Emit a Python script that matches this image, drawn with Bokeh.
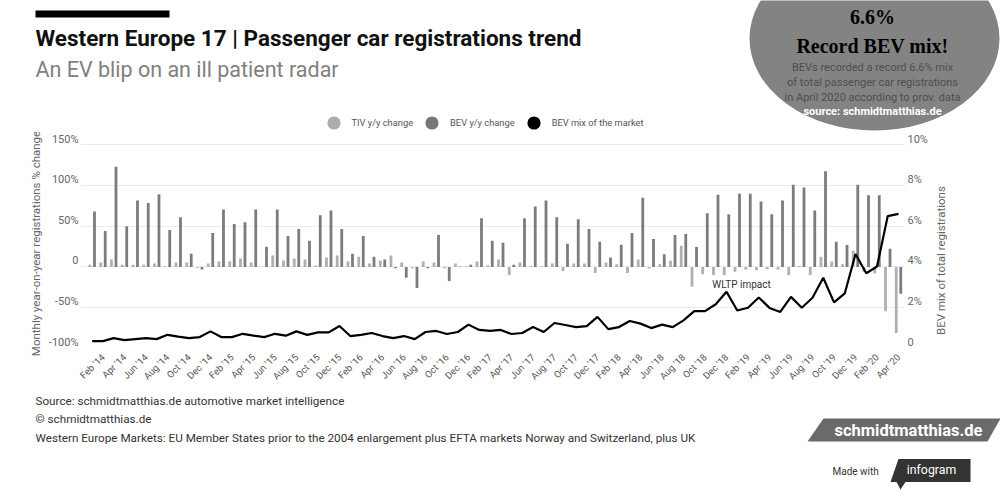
import math
from bokeh.plotting import figure
from bokeh.layouts import column, row
from bokeh.models import (Range1d, LinearAxis, FixedTicker, Label, Legend, LegendItem,
                          ColumnDataSource)
from bokeh.transform import dodge
from bokeh.embed import file_html
from bokeh.resources import INLINE

# ---------------- data ----------------
MONTH_NAMES = ["Jan", "Feb", "Mar", "Apr", "May", "Jun", "Jul", "Aug", "Sep", "Oct", "Nov", "Dec"]
YEARS = ["14", "15", "16", "17", "18", "19", "20"]
categories = [f"{m} '{y}" for y in YEARS for m in MONTH_NAMES][:76]   # Jan '14 .. Apr '20

tiv_yoy = [2.5, 5.3, 9, 2.5, 2.5, 2.5, 4.1, 0.8, 5.3, 5.3, -1, 4.1, 6.6, 6.6, 10.3, 5.3, 0.3, 14,
           7.8, 10.3, 9, 1.6, 11.5, 14, 6.6,
           12.3, 4.1, 7.8, 14, 5.3, -1.6, 6.6, 5.3, -1.6, 4.1, 0.8, 6.6, 2, 9, -9.9, 5.3, 0.8,
           0.8, 4.1, -4.9, 4.1, 4.1, -7.4, 5.3, 3.3, -7.4, 9,
           -2, 3.3, 7.4, 25.9, -24.3, -9, -9.9, -9.9, -5.8, -3.3, -4.1, -2.9, -3.3, -9.9, 1,
           -9.9, 12.3, 6.6, 3.3, 19.8, -6.2, -8.2, -54.3, -81.1]

bev_yoy = [67.9, 44, 122.6, 49.8, 81.5, 78.2, 88.9, 45.3, 60.9, 16, -3.3, 41.6, 70.4, 52.7,
           54.7, 70.4, 24.7, 70.4, 37.9, 46.5, 32.1, 63.4, 69.1, 46.5, 16,
           37.9, 12.3, 9, -1.6, -13.2, -26, -1.6, 39.1, -17.3, 0.5, 2.5, 59.7, 32.1, 29.6, 2.5,
           59.7, 74.1, 81.5, 60.9, 28.4, 58.4, 46.5, 30.9, 11.5, 27.2, 41.6, 84.8,
           34.2, 15.6, 39.1, 40.3, 24.3, 65.8, 88.5, 64.6, 89.7, 89.7, 80.2, 64.6, 81.5, 100.8,
           97.2, 69.1, 117.3, 30.9, 26.7, 100.8, 87.7, 87.7, 22.2, -32.9]

bev_mix = [0.36, 0.36, 0.51, 0.41, 0.46, 0.51, 0.46, 0.67, 0.58, 0.51, 0.56, 0.84, 0.56, 0.56,
           0.72, 0.63, 0.56, 0.72, 0.63, 0.84, 0.67, 0.79, 0.79, 1.10,
           0.61, 0.67, 0.76, 0.61, 0.51, 0.61, 0.46, 0.81, 0.86, 0.71, 0.81, 1.17, 0.91, 0.86,
           0.91, 0.71, 0.76, 1.05, 0.81, 1.25, 1.15, 1.05, 1.10, 1.55, 0.95, 1.05, 1.35,
           1.22, 1.0, 1.17, 1.05, 1.38, 1.83, 1.83, 2.17, 2.78, 1.86, 2.0, 2.5, 1.99, 1.79, 2.53,
           2.0, 2.49, 3.47, 2.26, 2.7, 4.63, 3.69, 4.02, 6.49, 6.6]

x_tick_index = list(range(1, 76, 2))
x_tick_labels = [categories[i] for i in x_tick_index]        # Feb '14 .. Apr '20
left_ticks = [-100, -50, 0, 50, 100, 150]
left_tick_labels = ["-100%", "-50%", "0", "50%", "100%", "150%"]
right_ticks = [0, 2, 4, 6, 8, 10]
right_tick_labels = ["0", "2%", "4%", "6%", "8%", "10%"]

legend_labels = ["TIV y/y change", "BEV y/y change", "BEV mix of the market"]

W = 1000
HEAD_H, CHART_H, FOOT_H = 132, 258, 108
CHART_W = 932
TIV_C, BEV_C = "#b0b0b0", "#7c7c7c"
GRAY_TXT = "#666666"


def no_frame_align(fig):
    try:
        fig.frame_align = False
    except Exception:
        pass


def lab(fig, t, x, y, size, color="#333333", bold=False, align="left", baseline="middle",
        font="Roboto", angle=0.0):
    fig.add_layout(Label(x=x, y=y, text=t, text_font=font, text_font_size=f"{size}px",
                         text_color=color, text_font_style="bold" if bold else "normal",
                         text_align=align, text_baseline=baseline, angle=angle))


def deco_figure(w, h, x0, y0):
    f = figure(width=w, height=h, x_range=Range1d(x0, x0 + w), y_range=Range1d(y0 + h, y0),
               output_backend="svg", toolbar_location=None, title=None,
               x_axis_location=None, y_axis_location=None,
               min_border_left=0, min_border_right=0, min_border_top=0, min_border_bottom=0)
    f.outline_line_color = None
    f.grid.visible = False
    no_frame_align(f)
    return f


# ---------------- header (page coordinates) ----------------
head = deco_figure(W, HEAD_H, 0, 0)
head.quad(left=35, right=169, top=10, bottom=17, fill_color="black", line_color=None)
lab(head, "Western Europe 17 | Passenger car registrations trend", 35, 37, 22.5, "#111111",
    bold=True, baseline="alphabetic")
lab(head, "An EV blip on an ill patient radar", 35, 68.5, 21.5, "#808080", baseline="alphabetic")

head.ellipse(x=874, y=38, width=250, height=184, fill_color="#838383", line_color=None)
lab(head, "6.6%", 872, 16, 20, "#000000", bold=True, align="center", font="Liberation Serif")
lab(head, "Record BEV mix!", 872, 45, 20, "#000000", bold=True, align="center",
    font="Liberation Serif")
lab(head, "BEVs recorded a record 6.6% mix", 872, 67, 11, "#4e4e4e", align="center")
lab(head, "of total passenger car registrations", 872, 81.5, 11, "#4e4e4e", align="center")
lab(head, "in April 2020 according to prov. data", 872, 96.5, 11, "#4e4e4e", align="center")
lab(head, "source: schmidtmatthias.de", 872, 110.5, 11, "#ffffff", bold=True, align="center")

# legend: one marker renderer per series, its only point lies outside the visible range
items = []
for lbl, col in zip(legend_labels, ["#adadad", "#777777", "#000000"]):
    r = head.scatter(x=[-500], y=[-500], marker="circle", size=13, fill_color=col,
                     line_color=None)
    items.append(LegendItem(label=lbl, renderers=[r]))
head.add_layout(Legend(items=items, orientation="horizontal", location=(316.5, HEAD_H - 138.5),
                       glyph_width=33, glyph_height=33, label_standoff=2, spacing=2, padding=0,
                       margin=0, border_line_color=None, background_fill_alpha=0,
                       label_text_font="Roboto", label_text_font_size="9.3px",
                       label_text_color="#555555"))

# ---------------- chart ----------------
D = 7.35          # 6 px in % units: tick labels sit just above their grid lines
D2 = D / 25.0     # same offset on the BEV-mix scale
chart = figure(width=CHART_W, height=CHART_H, output_backend="svg", toolbar_location=None,
               title=None, x_range=Range1d(-1.09, 75.65), y_range=Range1d(-100, 150 + D),
               min_border_left=80, min_border_right=CHART_W - 905, min_border_top=6,
               min_border_bottom=42)
chart.outline_line_color = None
no_frame_align(chart)
chart.extra_y_ranges = {"mix": Range1d(0, 10 + D2),
                        "lbl": Range1d(-100 - D, 150),
                        "mixlbl": Range1d(-D2, 10)}

src = ColumnDataSource(dict(x=list(range(len(categories))), month=categories,
                            tiv=tiv_yoy, bev=bev_yoy, mix=bev_mix))
chart.vbar(x=dodge("x", -0.21, range=chart.x_range), top="tiv", bottom=0, width=0.26,
           fill_color=TIV_C, line_color=None, source=src)
chart.vbar(x=dodge("x", 0.21, range=chart.x_range), top="bev", bottom=0, width=0.26,
           fill_color=BEV_C, line_color=None, source=src)
chart.line(x="x", y="mix", y_range_name="mix", line_color="black", line_width=2.2, source=src)

grid_ticker = FixedTicker(ticks=left_ticks)
chart.yaxis[0].visible = False
chart.ygrid.ticker = grid_ticker
chart.ygrid.grid_line_color = "#ececec"
chart.xgrid.grid_line_color = None


def style_axis(ax):
    ax.axis_line_color = None
    ax.major_tick_line_color = None
    ax.minor_tick_line_color = None
    ax.major_tick_out = 0
    ax.major_tick_in = 0
    ax.minor_tick_out = 0
    ax.major_label_text_font = "Roboto"
    ax.major_label_text_color = GRAY_TXT
    ax.axis_label_text_font = "Roboto"
    ax.axis_label_text_font_style = "normal"
    ax.axis_label_text_color = GRAY_TXT
    ax.axis_label_text_font_size = "11.5px"


la = LinearAxis(y_range_name="lbl", ticker=FixedTicker(ticks=left_ticks),
                major_label_overrides=dict(zip(left_ticks, left_tick_labels)),
                axis_label="Monthly year-on-year registrations % change")
style_axis(la)
la.major_label_text_font_size = "11px"
la.major_label_standoff = 2
la.axis_label_standoff = 3
chart.add_layout(la, "left")

ra = LinearAxis(y_range_name="mixlbl", ticker=FixedTicker(ticks=right_ticks),
                major_label_overrides=dict(zip(right_ticks, right_tick_labels)))
style_axis(ra)
ra.major_label_text_font_size = "11px"
ra.major_label_standoff = 2
chart.add_layout(ra, "right")

xa = chart.xaxis[0]
style_axis(xa)
xa.ticker = FixedTicker(ticks=x_tick_index)
xa.major_label_overrides = dict(zip(x_tick_index, x_tick_labels))
xa.major_label_orientation = math.pi / 4
xa.major_label_text_font_size = "9.5px"
xa.major_label_text_color = "#555555"
xa.major_label_standoff = 7

chart.add_layout(Label(x=60.4, y=-21.3, text="WLTP impact", text_font="Roboto",
                       text_font_size="10px", text_color="#333333",
                       text_align="center", text_baseline="middle"))

# right-axis title, reading upwards like the original
rtitle = deco_figure(W - CHART_W, CHART_H, CHART_W, HEAD_H)
lab(rtitle, "BEV mix of total registrations", 940, 260, 11.5, GRAY_TXT, align="center",
    angle=math.pi / 2)

# ---------------- footer (page coordinates) ----------------
Y0 = HEAD_H + CHART_H
foot = deco_figure(W, FOOT_H, 0, Y0)
lab(foot, "Source: schmidtmatthias.de automotive market intelligence", 35, 400, 11.7)
lab(foot, "\u00a9 schmidtmatthias.de", 35, 418.5, 11.7)
lab(foot, "Western Europe Markets: EU Member States prior to the 2004 enlargement plus EFTA "
          "markets Norway and Switzerland, plus UK", 35, 437, 11.7)

foot.patch(x=[823, 1000, 987, 807], y=[418, 418, 441, 441], fill_color="#6a6a6a", line_color=None)
lab(foot, "schmidtmatthias.de", 908, 429.5, 16.5, "#ffffff", bold=True, align="center")
lab(foot, "Made with", 832, 471, 10, "#333333")
foot.patch(x=[898, 970, 970, 905, 900, 896, 890], y=[458.5, 458.5, 481.5, 481.5, 489, 481.5, 481.5],
           fill_color="#333333", line_color=None)
lab(foot, "infogram", 931, 469.5, 12.3, "#ffffff", align="center")

layout = column(head, row(chart, rtitle, spacing=0), foot, spacing=0)
open("out.html", "w").write(file_html(layout, INLINE))
